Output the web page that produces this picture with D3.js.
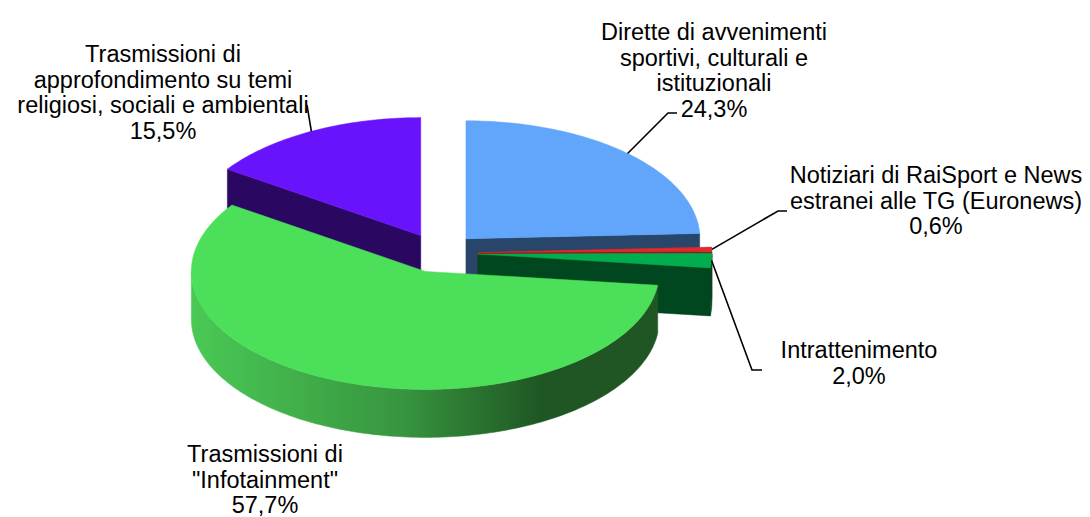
<!DOCTYPE html>
<html>
<head>
<meta charset="utf-8">
<script src="https://cdn.jsdelivr.net/npm/d3@7"></script>
<style>
  body { margin: 0; background: #fff; }
  svg text { font-family: "Liberation Sans", Arial, sans-serif; font-size: 23.5px; fill: #000; }
</style>
</head>
<body>
<svg id="chart" width="1090" height="517"></svg>
<script>
// data, clockwise from 12 o'clock
var categories = [
  ["Dirette di avvenimenti", "sportivi, culturali e", "istituzionali"],
  ["Notiziari di RaiSport e News", "estranei alle TG (Euronews)"],
  ["Intrattenimento"],
  ["Trasmissioni di", "\"Infotainment\""],
  ["Trasmissioni di", "approfondimento su temi", "religiosi, sociali e ambientali"]
];
var values = [24.3, 0.6, 2.0, 57.7, 15.5];

// styles
var topColors  = ["#62a6fb", "#e0292b", "#00ae4f", "#4cdf59", "#6913fd"];
var faceColors = ["#27466a", "#8c1517", "#00461f", "#1f5623", "#2a0862"];
var wallStops  = [
  ["#3f6fa8", "#27466a"],
  ["#b82022", "#8c1517"],
  ["#00461f", "#00461f"],
  ["#4ac955", "#1f5623"],
  ["#4a18b0", "#2a0862"]
];

// layout
var cx = 439, cy = 253, rx = 234, ry = 118, depth = 48, explode = 39;
var lineH = 25.5;
var labelPos = [[714, 40], [936, 183], [859, 358], [265, 462], [163, 62]];
var leaderEnds = [
  [[668, 113], [677, 113]],
  [[778, 211], [787, 211]],
  [[752, 370], [762, 370]],
  null,
  [[307, 105]]
];

var svg = d3.select("#chart");
var defs = svg.append("defs");

var pie = d3.pie().sort(null).value(function (d) { return d; })
  .startAngle(0).endAngle(2 * Math.PI);
var arcs = pie(values);

var fmt = function (v) { return d3.format(".1f")(v).replace(".", ",") + "%"; };

// sample angles along an arc
function angles(a0, a1) {
  var n = Math.max(2, Math.ceil((a1 - a0) / 0.02));
  return d3.range(n + 1).map(function (i) { return a0 + (a1 - a0) * i / n; });
}

var line = d3.line();

var slices = arcs.map(function (a, i) {
  var mid = (a.startAngle + a.endAngle) / 2;
  var c = [cx + explode * Math.sin(mid), cy - explode * (ry / rx) * Math.cos(mid)];
  return { i: i, a: a, mid: mid, c: c };
});

function rim(c, ang, dy) {
  return [c[0] + rx * Math.sin(ang), c[1] - ry * Math.cos(ang) + (dy || 0)];
}

// back to front
var order = slices.slice().sort(function (p, q) { return p.c[1] - q.c[1]; });

order.forEach(function (s) {
  var a0 = s.a.startAngle, a1 = s.a.endAngle, c = s.c, i = s.i;
  var g = svg.append("g").attr("class", "slice");

  // outer wall (front half only)
  var w0 = Math.max(a0, Math.PI / 2), w1 = Math.min(a1, 3 * Math.PI / 2);
  if (w1 > w0) {
    var gid = "wall" + i;
    var grad = defs.append("linearGradient").attr("id", gid)
      .attr("gradientUnits", "userSpaceOnUse")
      .attr("x1", c[0] - rx).attr("x2", c[0] + rx).attr("y1", 0).attr("y2", 0);
    grad.append("stop").attr("offset", 0).attr("stop-color", wallStops[i][0]);
    grad.append("stop").attr("offset", 0.45).attr("stop-color", d3.interpolateRgb(wallStops[i][0], wallStops[i][1])(0.45));
    grad.append("stop").attr("offset", 0.75).attr("stop-color", wallStops[i][1]);
    grad.append("stop").attr("offset", 1).attr("stop-color", wallStops[i][1]);
    var ws = angles(w0, w1);
    var pts = ws.map(function (t) { return rim(c, t); })
      .concat(ws.slice().reverse().map(function (t) { return rim(c, t, depth); }));
    g.append("path").attr("d", line(pts) + "Z")
      .attr("fill", "url(#" + gid + ")")
      .attr("stroke", "url(#" + gid + ")").attr("stroke-width", 0.5);
  }

  // radial faces facing the viewer
  [[a0, Math.sin(a0) < -1e-3], [a1, Math.sin(a1) > 1e-3]].forEach(function (f) {
    if (!f[1]) return;
    var r = rim(c, f[0]);
    var pts = [c, r, [r[0], r[1] + depth], [c[0], c[1] + depth]];
    g.append("path").attr("d", line(pts) + "Z")
      .attr("fill", faceColors[i]).attr("stroke", faceColors[i]).attr("stroke-width", 0.5);
  });

  // top face
  var tp = [c].concat(angles(a0, a1).map(function (t) { return rim(c, t); }));
  g.append("path").attr("d", line(tp) + "Z")
    .attr("fill", topColors[i]).attr("stroke", topColors[i]).attr("stroke-width", 0.5);
});

// leader lines
slices.forEach(function (s) {
  var ends = leaderEnds[s.i];
  if (!ends) return;
  var pts = [rim(s.c, s.mid)].concat(ends);
  svg.append("path").attr("d", line(pts))
    .attr("fill", "none").attr("stroke", "#000").attr("stroke-width", 1.6);
});

// labels
slices.forEach(function (s) {
  var lines = categories[s.i].concat([fmt(values[s.i])]);
  var t = svg.append("text").attr("text-anchor", "middle");
  lines.forEach(function (l, k) {
    t.append("tspan").attr("x", labelPos[s.i][0]).attr("y", labelPos[s.i][1] + k * lineH).text(l);
  });
});
</script>
</body>
</html>
